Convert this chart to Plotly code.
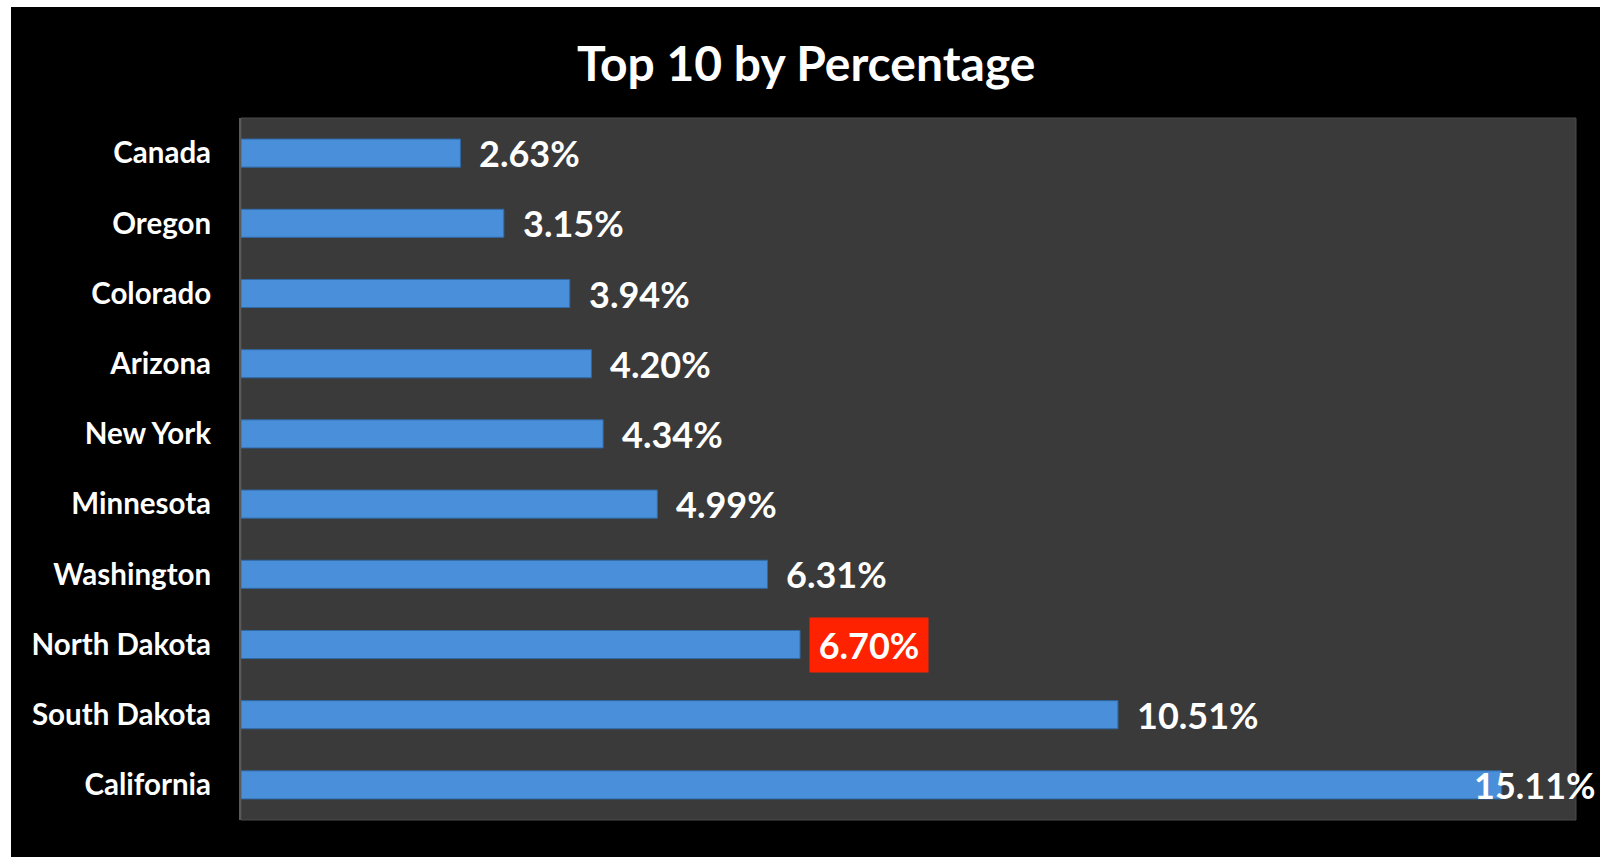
import plotly.graph_objects as go

categories = ["Canada", "Oregon", "Colorado", "Arizona", "New York",
              "Minnesota", "Washington", "North Dakota", "South Dakota", "California"]
values = [2.63, 3.15, 3.94, 4.20, 4.34, 4.99, 6.31, 6.70, 10.51, 15.11]
labels = ["2.63%", "3.15%", "3.94%", "4.20%", "4.34%",
          "4.99%", "6.31%", "6.70%", "10.51%", "15.11%"]
highlight = "North Dakota"
title_text = "Top 10 by Percentage"

W, H = 1600, 858
L, R, T, B = 241, 24, 118, 38
pw, ph = W - L - R, H - T - B
FONT = "Lato"

fig = go.Figure()
fig.add_trace(go.Bar(
    x=values, y=categories, orientation="h", width=0.4,
    marker=dict(color="#4a8fd9", line=dict(color="#2f6aa8", width=1)),
    hoverinfo="skip",
))

annotations = []
for c, v, t in zip(categories, values, labels):
    a = dict(x=v, y=c, xref="x", yref="y", text=t, showarrow=False,
             xanchor="left", yanchor="middle",
             font=dict(family=FONT, size=36, color="white", weight="bold"))
    if c == highlight:
        a.update(bgcolor="#ff2200", borderpad=5, xshift=9, width=108, align="center")
    elif c == categories[-1]:
        a.update(xshift=-30)
    else:
        a.update(xshift=17)
    annotations.append(a)

annotations.append(dict(
    x=(806 - L) / pw, y=(H - B - 63) / ph,
    xref="paper", yref="paper", text=title_text, showarrow=False,
    xanchor="center", yanchor="middle",
    font=dict(family=FONT, size=48, color="white", weight="bold")))

shapes = [
    dict(type="rect", xref="paper", yref="paper", layer="below",
         x0=(11 - L) / pw, x1=(W - L) / pw + 0.01,
         y0=(H - B - 857) / ph, y1=(H - B - 7) / ph,
         fillcolor="black", line=dict(width=0)),
    dict(type="rect", xref="paper", yref="paper", layer="below",
         x0=0, x1=1, y0=0, y1=1,
         fillcolor="#3a3a3a", line=dict(color="#4a4a4a", width=1)),
]

fig.update_layout(
    width=W, height=H,
    margin=dict(l=L, r=R, t=T, b=B),
    paper_bgcolor="white",
    plot_bgcolor="rgba(0,0,0,0)",
    showlegend=False,
    xaxis=dict(range=[0, 16], visible=False, fixedrange=True),
    yaxis=dict(categoryorder="array", categoryarray=categories[::-1],
               showgrid=False, zeroline=False, showline=True,
               linecolor="#5a5a5a", linewidth=2,
               ticks="", ticklabelstandoff=22,
               tickfont=dict(family=FONT, size=29.5, color="white", weight="bold")),
    annotations=annotations,
    shapes=shapes,
)

fig.write_html("out.html", config=dict(displayModeBar=False))
